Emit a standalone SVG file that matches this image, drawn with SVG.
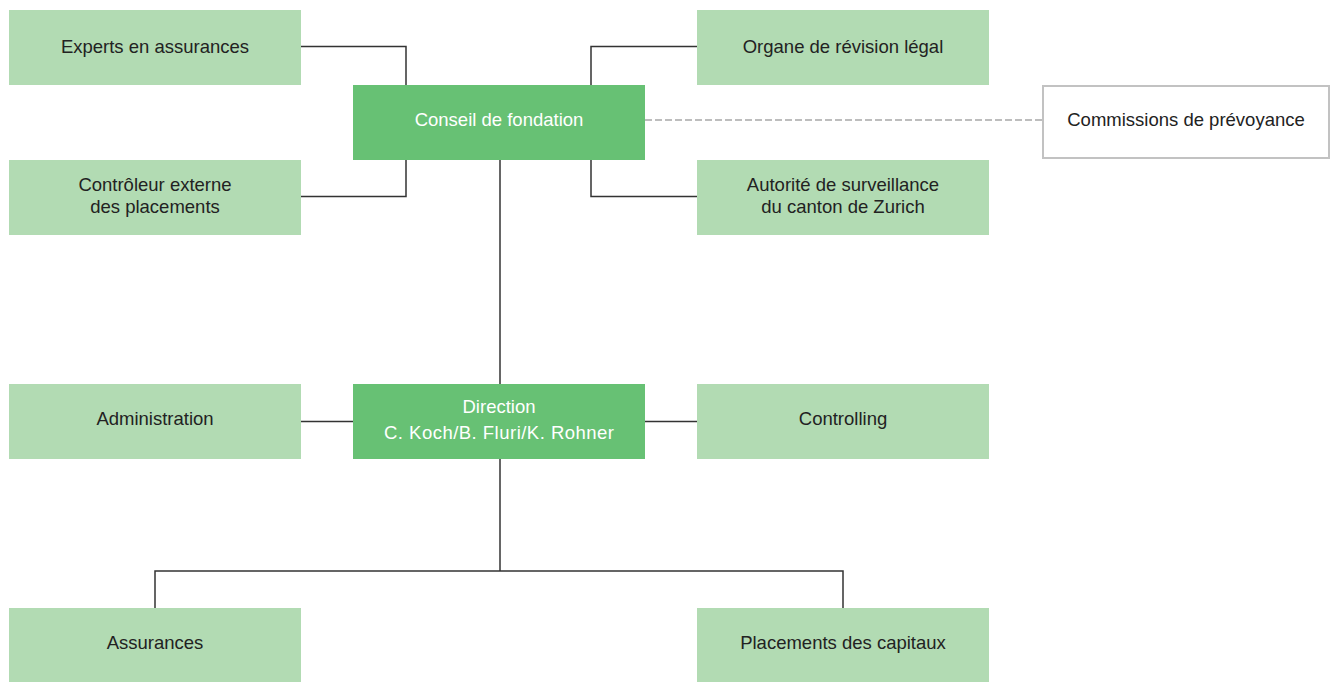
<svg xmlns="http://www.w3.org/2000/svg" width="1331" height="682" viewBox="0 0 1331 682">
<style>
.lt{fill:#b2dbb3}
.dk{fill:#67c174}
.t{font-family:"Liberation Sans",Arial,sans-serif;font-size:18.5px;fill:#222;text-anchor:middle}
.w{fill:#fff}
.c{fill:none;stroke:#333;stroke-width:1.5}
.d{fill:none;stroke:#bdbdbd;stroke-width:2;stroke-dasharray:7 3}
</style>
<rect width="1331" height="682" fill="#fff"/>
<g id="connectors">
<polyline class="c" points="301,46.5 406,46.5 406,85"/>
<polyline class="c" points="301,196.5 406,196.5 406,160"/>
<polyline class="c" points="697,46.5 591,46.5 591,85"/>
<polyline class="c" points="697,196.5 591,196.5 591,160"/>
<line class="c" x1="500" y1="160" x2="500" y2="384"/>
<line class="c" x1="301" y1="421.5" x2="353" y2="421.5"/>
<line class="c" x1="645" y1="421.5" x2="697" y2="421.5"/>
<line class="c" x1="500" y1="459" x2="500" y2="571"/>
<polyline class="c" points="155,608 155,571 843,571 843,608"/>
<line class="d" x1="645" y1="120" x2="1042" y2="120"/>
</g>
<g id="experts"><rect class="lt" x="9" y="10" width="292" height="75"/><text class="t" x="155" y="53">Experts en assurances</text></g>
<g id="controleur"><rect class="lt" x="9" y="160" width="292" height="75"/><text class="t" x="155" y="191">Contrôleur externe</text><text class="t" x="155" y="213">des placements</text></g>
<g id="conseil"><rect class="dk" x="353" y="85" width="292" height="75"/><text class="t w" x="499" y="126">Conseil de fondation</text></g>
<g id="organe"><rect class="lt" x="697" y="10" width="292" height="75"/><text class="t" x="843" y="53">Organe de révision légal</text></g>
<g id="autorite"><rect class="lt" x="697" y="160" width="292" height="75"/><text class="t" x="843" y="191">Autorité de surveillance</text><text class="t" x="843" y="213">du canton de Zurich</text></g>
<g id="commissions"><rect x="1043" y="86" width="286" height="72" fill="#fff" stroke="#c2c2c2" stroke-width="2"/><text class="t" x="1186" y="126">Commissions de prévoyance</text></g>
<g id="administration"><rect class="lt" x="9" y="384" width="292" height="75"/><text class="t" x="155" y="425">Administration</text></g>
<g id="direction"><rect class="dk" x="353" y="384" width="292" height="75"/><text class="t w" x="499" y="413">Direction</text><text class="t w" x="499" y="439" textLength="230" lengthAdjust="spacing">C. Koch/B. Fluri/K. Rohner</text></g>
<g id="controlling"><rect class="lt" x="697" y="384" width="292" height="75"/><text class="t" x="843" y="425">Controlling</text></g>
<g id="assurances"><rect class="lt" x="9" y="608" width="292" height="74"/><text class="t" x="155" y="649">Assurances</text></g>
<g id="placements"><rect class="lt" x="697" y="608" width="292" height="74"/><text class="t" x="843" y="649">Placements des capitaux</text></g>
</svg>
